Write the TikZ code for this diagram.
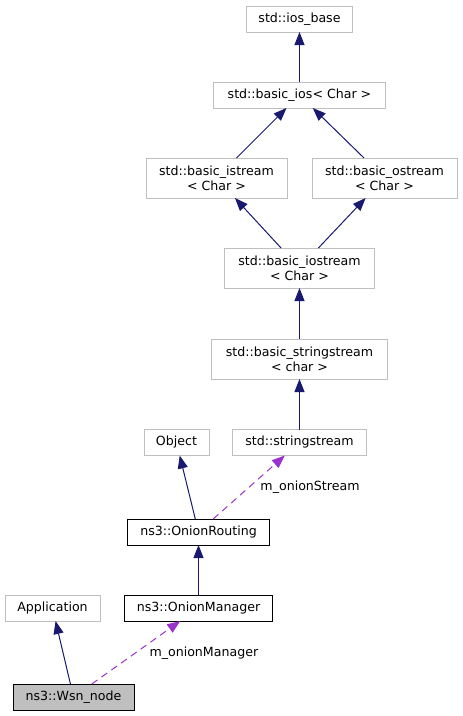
\documentclass[tikz,border=0pt]{standalone}
\usepackage{fontspec}
\setmainfont{DejaVu Sans}
\usepackage{xcolor}
\usetikzlibrary{arrows.meta,positioning}
\definecolor{inhcolor}{HTML}{191970}
\definecolor{usecolor}{HTML}{9A32CD}
\definecolor{boxgray}{HTML}{BFBFBF}

\begin{document}
\begin{tikzpicture}[x=1pt,y=-1pt,>={Triangle[length=13pt,width=10pt]},font=\fontsize{12.6}{15}\selectfont,
  cls/.style={draw=boxgray,line width=1pt,fill=white,inner sep=0pt,outer sep=0pt,align=center,minimum height=26pt},
  cls2/.style={cls,minimum height=40pt},
  ours/.style={cls,draw=black},
  inh/.style={->,draw=inhcolor,line width=1pt},
  usedby/.style={->,draw=usecolor,line width=1pt,dash pattern=on 7pt off 5pt},
  lbl/.style={inner sep=0pt,anchor=west}]
  \useasboundingbox (0,0) rectangle (463,716);
  % std classes
  \node[cls,minimum width=106pt] (iosbase) at (299.5,19) {std::ios\_base};
  \node[cls,minimum width=172pt] (basicios) at (299.5,95) {std::basic\_ios< Char >};
  \node[cls2,minimum width=141pt] (istream) at (216.5,178) {std::basic\_istream\\< Char >};
  \node[cls2,minimum width=145pt] (ostream) at (384.5,178) {std::basic\_ostream\\< Char >};
  \node[cls2,minimum width=150pt] (iostream) at (299.5,268) {std::basic\_iostream\\< Char >};
  \node[cls2,minimum width=176pt] (bstrstream) at (299.5,359) {std::basic\_stringstream\\< char >};
  \node[cls,minimum width=134pt] (strstream) at (299.5,442.5) {std::stringstream};
  % ns3 classes
  \node[cls,minimum width=65pt] (object) at (176.5,442.5) {Object};
  \node[ours,minimum width=142pt] (routing) at (198.5,532) {ns3::OnionRouting};
  \node[cls,minimum width=95pt] (app) at (52.5,608) {Application};
  \node[ours,minimum width=148pt] (manager) at (198.5,608) {ns3::OnionManager};
  \node[ours,fill=boxgray,minimum width=121pt] (wsn) at (73.5,697) {ns3::Wsn\_node};
  % inheritance
  \draw[inh] (basicios) -- (iosbase);
  \draw[inh] (istream) -- (basicios);
  \draw[inh] (ostream) -- (basicios);
  \draw[inh] (iostream) -- (istream);
  \draw[inh] (iostream) -- (ostream);
  \draw[inh] (bstrstream) -- (iostream);
  \draw[inh] (strstream) -- (bstrstream);
  \draw[inh] (routing) -- (object);
  \draw[inh] (manager) -- (routing);
  \draw[inh] (wsn) -- (app);
  % members
  \draw[usedby] (routing) -- node[lbl,xshift=11pt] (streamlbl) {m\_onionStream} (strstream);
  \draw[usedby] (wsn) -- node[lbl,xshift=13pt,yshift=-1pt] (managerlbl) {m\_onionManager} (manager);
\end{tikzpicture}
\end{document}
